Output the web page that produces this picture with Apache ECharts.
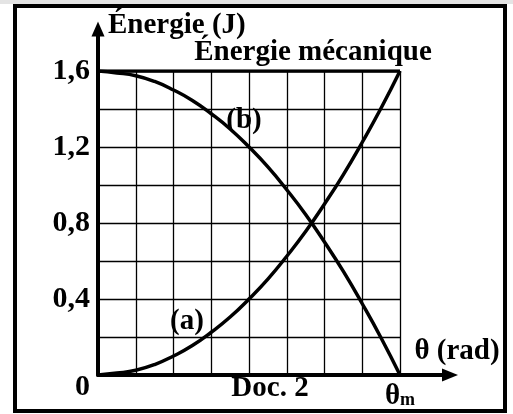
<!DOCTYPE html>
<html>
<head>
<meta charset="utf-8">
<script src="https://cdn.jsdelivr.net/npm/echarts@6/dist/echarts.min.js"></script>
<style>
  html, body { margin: 0; padding: 0; background: #fff; }
  #chart { width: 513px; height: 414px; }
</style>
</head>
<body>
<div id="chart"></div>
<script>
// Angle samples (grid units along θ, θm at 8)
const thetaSteps = [0, 0.5, 1, 1.5, 2, 2.5, 3, 3.5, 4, 4.5, 5, 5.5, 6, 6.5, 7, 7.5, 8];
// Curve (a): rising energy, 0 → 1.6 J
const curveA = [0, 0.01, 0.025, 0.055, 0.1, 0.155, 0.225, 0.305, 0.4, 0.505, 0.625, 0.755, 0.9, 1.055, 1.225, 1.405, 1.6];
// Curve (b): falling energy, 1.6 → 0 J
const curveB = [1.6, 1.59, 1.575, 1.545, 1.5, 1.445, 1.375, 1.295, 1.2, 1.095, 0.975, 0.845, 0.7, 0.545, 0.375, 0.195, 0];
// Mechanical energy (constant)
const mechTheta = [0, 8];
const mechEnergy = [1.6, 1.6];
// Labelled energy ticks
const yTickValues = [0, 0.4, 0.8, 1.2, 1.6];
const yTickLabels = ['0', '0,4', '0,8', '1,2', '1,6'];
// Labelled angle tick
const xTickValue = 8;
const xTickLabel = 'θm';

const SERIF = '"Liberation Serif", "Times New Roman", serif';

function pairs(xs, ys) { return xs.map((x, i) => [x, ys[i]]); }

const chart = echarts.init(document.getElementById('chart'), null, { renderer: 'canvas' });

const txt = (text, x, y, align, vAlign, size) => ({
  type: 'text', z: 50,
  style: { text, x, y, align: align, verticalAlign: vAlign, textAlign: align, textVerticalAlign: vAlign,
           font: 'bold ' + (size || 29) + 'px ' + SERIF, fill: '#000' }
});

const option = {
  backgroundColor: '#fff',
  animation: false,
  grid: [
    { left: 98, right: 113, top: 71, bottom: 39 },
    { left: 98, right: 63, top: 29, bottom: 39 }
  ],
  xAxis: [
    {
      type: 'value', gridIndex: 0, min: 0, max: 8, interval: 1,
      axisLine: { show: false }, axisTick: { show: false },
      splitLine: { show: true, lineStyle: { color: '#000', width: 1.3 } },
      axisLabel: {
        margin: 7,
        formatter: v => (Math.abs(v - xTickValue) < 1e-6 ? '{t|' + xTickLabel[0] + '}{s|' + xTickLabel.slice(1) + '}' : ''),
        rich: {
          t: { fontFamily: SERIF, fontWeight: 'bold', fontSize: 29, color: '#000' },
          s: { fontFamily: SERIF, fontWeight: 'bold', fontSize: 18, color: '#000', padding: [8, 0, 0, 0] }
        }
      }
    },
    {
      type: 'value', gridIndex: 1, min: 0, max: 1,
      axisLine: { show: true, symbol: ['none', 'triangle'], symbolSize: [13, 16], lineStyle: { color: '#000', width: 4 } },
      axisTick: { show: false }, axisLabel: { show: false }, splitLine: { show: false }
    }
  ],
  yAxis: [
    {
      type: 'value', gridIndex: 0, min: 0, max: 1.6, interval: 0.2,
      axisLine: { show: false }, axisTick: { show: false },
      splitLine: { show: true, lineStyle: { color: '#000', width: 1.3 } },
      axisLabel: {
        margin: 8,
        formatter: v => {
          const i = yTickValues.findIndex(t => Math.abs(t - v) < 1e-6);
          if (i < 0) return '';
          return i === 0 ? '{z|' + yTickLabels[i] + '}' : '{n|' + yTickLabels[i] + '}';
        },
        rich: {
          n: { fontFamily: SERIF, fontWeight: 'bold', fontSize: 30, color: '#000' },
          z: { fontFamily: SERIF, fontWeight: 'bold', fontSize: 30, color: '#000', padding: [24, 0, 0, 0] }
        }
      }
    },
    {
      type: 'value', gridIndex: 1, min: 0, max: 1,
      axisLine: { show: true, symbol: ['none', 'triangle'], symbolSize: [13, 15], lineStyle: { color: '#000', width: 4 } },
      axisTick: { show: false }, axisLabel: { show: false }, splitLine: { show: false }
    }
  ],
  series: [
    {
      name: 'Énergie mécanique', type: 'line', xAxisIndex: 0, yAxisIndex: 0,
      data: pairs(mechTheta, mechEnergy), showSymbol: false, z: 5,
      lineStyle: { color: '#000', width: 3.5 }
    },
    {
      name: '(a)', type: 'line', xAxisIndex: 0, yAxisIndex: 0, smooth: true,
      data: pairs(thetaSteps, curveA), showSymbol: false, z: 6,
      lineStyle: { color: '#000', width: 3.5 }
    },
    {
      name: '(b)', type: 'line', xAxisIndex: 0, yAxisIndex: 0, smooth: true,
      data: pairs(thetaSteps, curveB), showSymbol: false, z: 6,
      lineStyle: { color: '#000', width: 3.5 }
    }
  ],
  graphic: [
    { type: 'rect', z: 0, shape: { x: 0, y: 0, width: 513, height: 4 }, style: { fill: '#e4e4e4' } },
    { type: 'rect', z: 60, shape: { x: 15, y: 6, width: 490, height: 405 }, style: { fill: 'none', stroke: '#000', lineWidth: 4 } },
    txt('Énergie (J)', 108, 26, 'left', 'middle'),
    txt('Énergie mécanique', 313, 53, 'center', 'middle'),
    txt('(b)', 244, 121, 'center', 'middle'),
    txt('(a)', 187, 322, 'center', 'middle'),
    txt('θ (rad)', 457, 352, 'center', 'middle'),
    txt('Doc. 2', 270, 389, 'center', 'middle')
  ]
};

chart.setOption(option);
</script>
</body>
</html>
